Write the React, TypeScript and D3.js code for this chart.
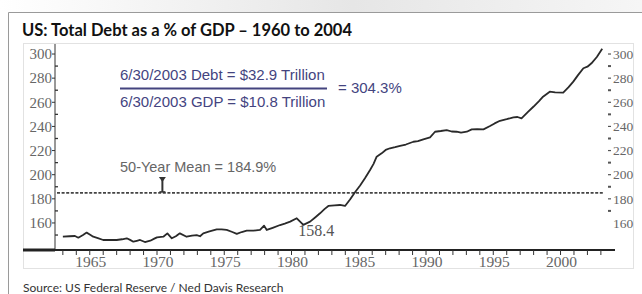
import React from "react";
import * as d3 from "d3";

const years: number[] = [
  1963.0, 1963.5, 1963.9, 1964.15, 1964.5, 1964.77, 1965.0, 1965.26, 1965.6, 1966.0,
  1966.5, 1967.0, 1967.4, 1967.75, 1968.0, 1968.24, 1968.5, 1968.74, 1969.1, 1969.5,
  1969.8, 1970.0, 1970.47, 1970.77, 1971.1, 1971.4, 1971.7, 1972.2, 1972.6, 1972.95,
  1973.2, 1973.44, 1973.9, 1974.44, 1974.8, 1975.18, 1975.6, 1975.93, 1976.3, 1976.67,
  1977.16, 1977.66, 1977.96, 1978.16, 1978.6, 1979.15, 1979.5, 1979.9, 1980.39, 1980.6,
  1980.88, 1981.38, 1981.8, 1982.12, 1982.45, 1982.74, 1983.2, 1983.6, 1983.98, 1984.35,
  1984.72, 1985.1, 1985.46, 1985.84, 1986.1, 1986.33, 1986.7, 1987.0, 1987.32, 1987.7,
  1988.07, 1988.5, 1989.06, 1989.4, 1989.8, 1990.3, 1990.67, 1991.1, 1991.54, 1991.9,
  1992.28, 1992.6, 1993.03, 1993.4, 1993.8, 1994.27, 1994.76, 1995.1, 1995.5, 1996.0,
  1996.5, 1996.8, 1997.1, 1997.6, 1998.0, 1998.4, 1998.7, 1999.2, 1999.6, 2000.2,
  2000.6, 2000.95, 2001.3, 2001.7, 2002.0, 2002.3, 2002.7, 2003.1,
];

const debtPct: number[] = [
  148.6, 149.0, 149.2, 147.8, 150.0, 152.0, 150.5, 148.6, 147.5, 145.9,
  146.0, 145.9, 146.5, 147.3, 146.0, 144.5, 145.2, 145.9, 144.2, 145.3,
  147.0, 148.1, 148.6, 151.4, 147.3, 149.0, 151.4, 148.6, 149.5, 150.0,
  149.0, 151.4, 153.0, 154.7, 154.7, 154.2, 152.5, 150.9, 152.5, 153.6,
  153.6, 154.2, 157.8, 154.2, 156.0, 158.3, 159.5, 161.1, 163.9, 161.5,
  158.4, 161.1, 165.0, 168.0, 171.5, 174.1, 174.6, 174.9, 174.1, 179.5,
  185.5, 191.0, 197.0, 203.9, 209.0, 214.9, 217.7, 220.5, 221.9, 222.8,
  223.8, 225.0, 227.3, 227.8, 229.3, 231.0, 235.6, 236.2, 237.0, 235.8,
  235.6, 234.8, 235.6, 237.6, 237.8, 237.6, 240.3, 242.5, 244.7, 246.0,
  247.5, 247.8, 246.7, 252.2, 256.5, 261.0, 264.6, 268.8, 268.2, 268.0,
  272.5, 277.1, 282.5, 288.2, 289.5, 292.3, 297.5, 304.3,
];

const meanValue = 184.9;
const minLabel = "158.4";
const minYear = 1980.88;
const minValue = 158.4;

const yTickValues: number[] = [160, 180, 200, 220, 240, 260, 280, 300];
const yMinorValues: number[] = [150, 170, 190, 210, 230, 250, 270, 290];
const xLabelYears: number[] = [1965, 1970, 1975, 1980, 1985, 1990, 1995, 2000];
const xTickYears: number[] = d3.range(1963, 2004);

const title = "US: Total Debt as a % of GDP \u2013 1960 to 2004";
const source = "Source: US Federal Reserve / Ned Davis Research";
const debtText = "6/30/2003 Debt = $32.9 Trillion";
const gdpText = "6/30/2003 GDP = $10.8 Trillion";
const ratioText = "= 304.3%";
const meanText = "50-Year Mean = 184.9%";

export default function App() {
  const W = 642;
  const H = 294;
  const left = 55;
  const right = 615;
  const top = 44;
  const bottom = 250;

  const x = d3.scaleLinear().domain([1962.416, 2004.05]).range([left, right]);
  const y = d3.scaleLinear().domain([137.6, 308.3]).range([bottom, top]);

  const data = years.map((yr, i) => ({ yr, v: debtPct[i] }));
  const line = d3
    .line<{ yr: number; v: number }>()
    .x((d) => x(d.yr))
    .y((d) => y(d.v));

  const serif = "Liberation Serif, DejaVu Serif, serif";
  const sans = "Liberation Sans, Arial, sans-serif";
  const lato = "Lato, Open Sans, sans-serif";
  const blue = "#44447f";
  const axisGray = "#666";

  const meanY = y(meanValue);
  const arrowX = x(1970.4);

  return (
    <svg
      width={W}
      height={H}
      style={{ position: "absolute", left: 0, top: 0, background: "#fff" }}
    >
      <defs>
        <linearGradient id="topShade" x1="0" x2="1" y1="0" y2="0">
          <stop offset="0" stopColor="#ffffff" />
          <stop offset="0.55" stopColor="#e6e6e6" />
          <stop offset="1" stopColor="#f6f6f6" />
        </linearGradient>
      </defs>
      <rect x={0} y={0} width={W} height={12} fill="url(#topShade)" />
      <path d={`M8.5,${H + 2} V12.5 H${W + 2}`} fill="none" stroke="#9a9a9a" strokeWidth={1} />

      <text x={22} y={36} fontFamily={lato} fontWeight={700} fontSize={16.5} fill="#111">
        {title}
      </text>

      <rect x={23.5} y={43.5} width={610} height={225} fill="#fff" stroke="#e2e2e2" strokeWidth={1} />

      <line x1={left} x2={left} y1={top} y2={bottom} stroke="#333" strokeWidth={1} />
      {yTickValues.map((v) => (
        <g key={`lt${v}`}>
          <line x1={left - 3} x2={left} y1={y(v)} y2={y(v)} stroke="#333" strokeWidth={1} />
          <text
            x={left - 3}
            y={y(v)}
            dy="0.35em"
            textAnchor="end"
            style={{ fontFamily: serif }}
            fontSize={15}
            fill={axisGray}
          >
            {v}
          </text>
        </g>
      ))}
      {yMinorValues.map((v) => (
        <line key={`lm${v}`} x1={left} x2={left + 3} y1={y(v)} y2={y(v)} stroke="#333" strokeWidth={1.3} />
      ))}

      {yTickValues.map((v) => (
        <g key={`rt${v}`}>
          {v !== 160 && (
            <line x1={608} x2={611} y1={y(v)} y2={y(v)} stroke="#555" strokeWidth={1.2} />
          )}
          <text
            x={613}
            y={y(v)}
            dy="0.35em"
            style={{ fontFamily: serif }}
            fontSize={13.5}
            fill={axisGray}
          >
            {v}
          </text>
        </g>
      ))}
      {yMinorValues.filter((v) => v > 160).map((v) => (
        <line key={`rm${v}`} x1={608} x2={611} y1={y(v)} y2={y(v)} stroke="#555" strokeWidth={2} />
      ))}

      <line x1={23} x2={left} y1={bottom} y2={bottom} stroke="#222" strokeWidth={3} />
      <line x1={left} x2={right} y1={bottom} y2={bottom} stroke="#222" strokeWidth={2} />
      {xTickYears.map((yr) => (
        <line key={`xt${yr}`} x1={x(yr)} x2={x(yr)} y1={bottom} y2={bottom + 5} stroke="#333" strokeWidth={1} />
      ))}
      {xLabelYears.map((yr) => (
        <text
          key={`xl${yr}`}
          x={x(yr) + 1}
          y={267}
          textAnchor="middle"
          style={{ fontFamily: serif }}
          fontSize={15.5}
          fill={axisGray}
        >
          {yr}
        </text>
      ))}

      <line
        x1={left + 2}
        x2={x(2003.2)}
        y1={meanY}
        y2={meanY}
        stroke="#444"
        strokeWidth={1.6}
        strokeDasharray="3 1.6"
      />
      <text x={120} y={172} fontFamily={sans} fontSize={14.5} fill="#666">
        {meanText}
      </text>
      <line x1={arrowX} x2={arrowX} y1={178} y2={meanY - 1} stroke="#333" strokeWidth={2} />
      <path d={`M${arrowX - 3.5},177 L${arrowX + 3.5},177 L${arrowX},182 Z`} fill="#333" />
      <line x1={arrowX - 3} x2={arrowX + 3} y1={meanY - 1} y2={meanY - 1} stroke="#333" strokeWidth={1.5} />

      <path d={line(data) ?? ""} fill="none" stroke="#2a2a2a" strokeWidth={1.8} strokeLinejoin="round" />

      <text
        x={x(minYear) + 13}
        y={y(minValue) + 11}
        textAnchor="middle"
        style={{ fontFamily: serif }}
        fontSize={16}
        fill="#555"
      >
        {minLabel}
      </text>

      <text x={120} y={80} fontFamily={sans} fontSize={15} fill={blue}>
        {debtText}
      </text>
      <line x1={120} x2={327} y1={88.5} y2={88.5} stroke={blue} strokeWidth={2} />
      <text x={120} y={107} fontFamily={sans} fontSize={15} fill={blue}>
        {gdpText}
      </text>
      <text x={338} y={93} fontFamily={sans} fontSize={15} fill={blue}>
        {ratioText}
      </text>

      <text x={23} y={292} fontFamily={lato} fontSize={12} fill="#333">
        {source}
      </text>
    </svg>
  );
}
